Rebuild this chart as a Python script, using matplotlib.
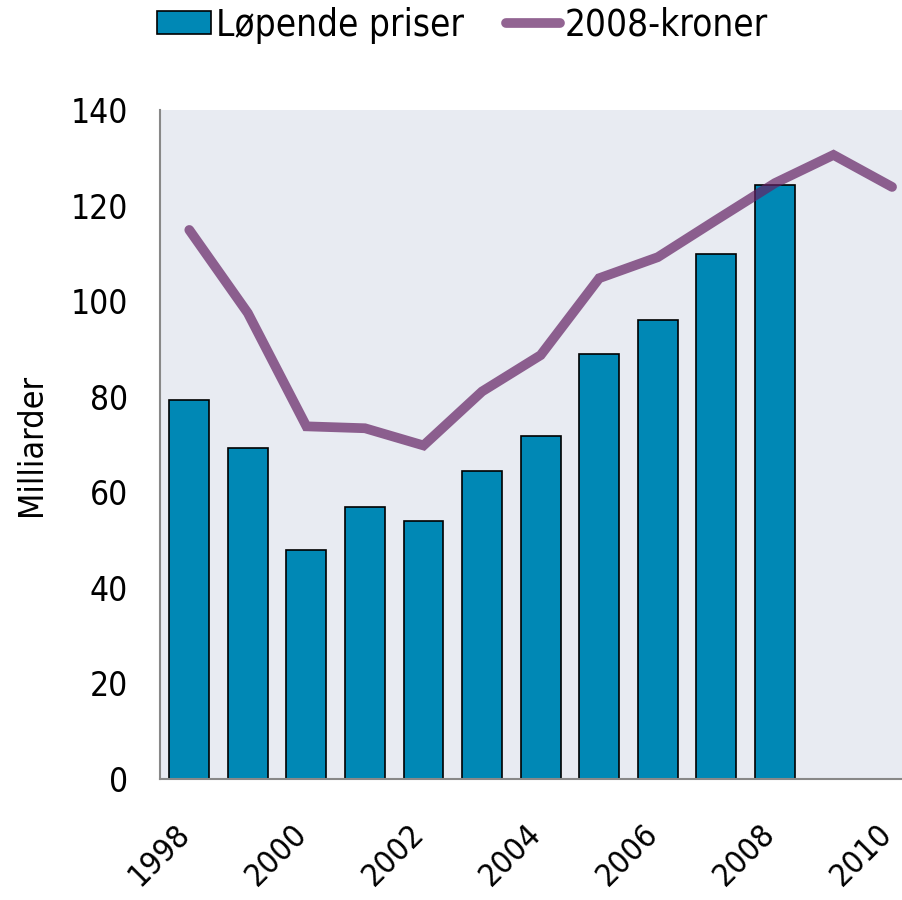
import numpy as np
import matplotlib.pyplot as plt
import matplotlib.transforms as mtrans
from matplotlib.font_manager import FontProperties

# data
years = [1998, 1999, 2000, 2001, 2002, 2003, 2004, 2005, 2006, 2007, 2008, 2009, 2010]
lopende = [79.4, 69.2, 48.0, 57.0, 54.0, 64.5, 71.7, 88.9, 96.0, 109.9, 124.3]
kroner2008 = [114.9, 97.5, 73.8, 73.4, 69.8, 81.1, 88.7, 104.8, 109.2, 117.0, 124.7, 130.6, 123.9]
tick_years = [1998, 2000, 2002, 2004, 2006, 2008, 2010]

plt.rcParams['font.family'] = ['DejaVu Sans']
plt.rcParams['font.stretch'] = 'condensed'
cond = FontProperties(family='DejaVu Sans', stretch='condensed', size=24.5)
xfont = FontProperties(family='DejaVu Sans', size=23)
narrow = FontProperties(family=['Liberation Sans Narrow', 'DejaVu Sans'], stretch='condensed', size=24)

fig = plt.figure(figsize=(9.02, 9.0), dpi=100)
ax = fig.add_axes([160/902, 1-779/900, (902-160)/902, (779-110)/900])
ax.set_facecolor('#E8EBF2')

x = np.arange(len(years))
bars = ax.bar(x[:len(lopende)], lopende, width=0.68, color='#0088B5', edgecolor='black',
              linewidth=1.2, label='Løpende priser', zorder=2)
line, = ax.plot(x, kroner2008, color='#642264', alpha=0.7, linewidth=7,
                solid_capstyle='round', solid_joinstyle='miter', label='2008-kroner', zorder=3)

ax.set_xlim(-0.5, 12.17)
ax.set_ylim(0, 140)
ax.set_yticks(np.arange(0, 141, 20))
ax.set_xticks([years.index(y) for y in tick_years])
ax.set_xticklabels([str(y) for y in tick_years], rotation=45, ha='right', va='center',
                   rotation_mode='anchor', fontproperties=xfont)
for lab in ax.get_yticklabels():
    lab.set_fontproperties(narrow)
ax.tick_params(axis='both', length=0)
ax.tick_params(axis='y', pad=23)
ax.tick_params(axis='x', pad=36)
shift = mtrans.ScaledTranslation(-4/100, 0, fig.dpi_scale_trans)
for lab in ax.get_xticklabels():
    lab.set_transform(lab.get_transform() + shift)

fig.text(32/902, 1-445/900, 'Milliarder', rotation=90, ha='center', va='center',
         fontproperties=cond)

for s in ['top', 'right']:
    ax.spines[s].set_visible(False)
for s in ['left', 'bottom']:
    ax.spines[s].set_color('#888888')
    ax.spines[s].set_linewidth(1.5)

leg_font = FontProperties(family='DejaVu Sans', stretch='condensed', size=26.5)
fig.legend([bars, line], ['Løpende priser', '2008-kroner'], loc='center',
           bbox_to_anchor=(0.513, 1-25/900), ncol=2, frameon=False, prop=leg_font,
           handlelength=1.45, handleheight=0.57, handletextpad=0.14, columnspacing=1.16)

fig.savefig('out.png', dpi=100)
